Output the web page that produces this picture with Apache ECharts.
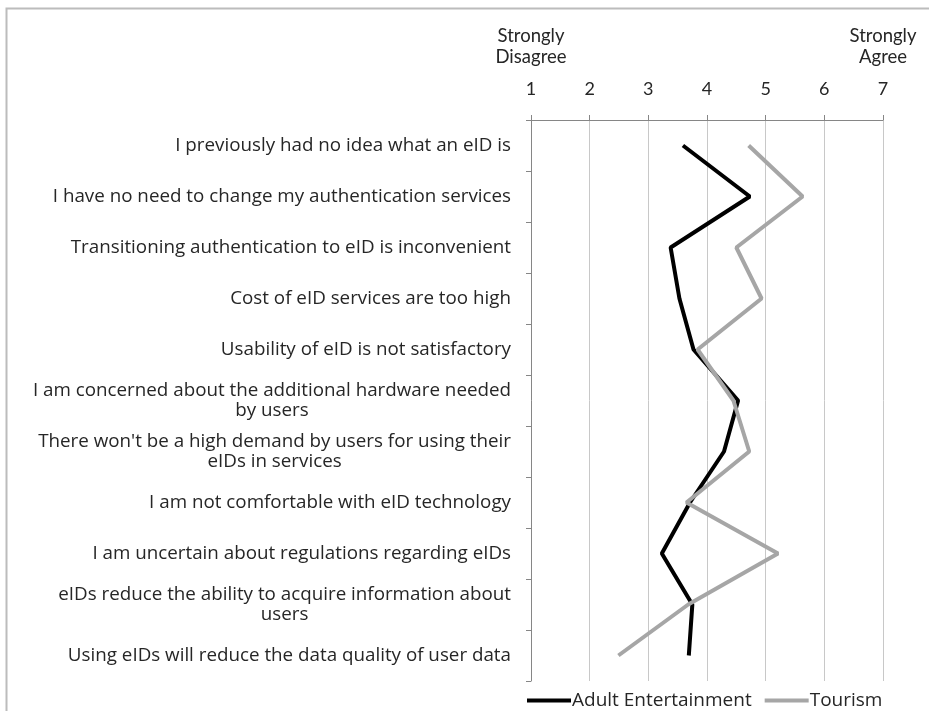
<!DOCTYPE html>
<html>
<head>
<meta charset="utf-8">
<script src="https://cdn.jsdelivr.net/npm/echarts@6/dist/echarts.min.js"></script>
<style>
  html, body { margin: 0; padding: 0; background: #fff; }
  #chart { width: 929px; height: 711px; }
</style>
</head>
<body>
<div id="chart"></div>
<script>
// Survey statements (top to bottom)
const statements = [
  "I previously had no idea what an eID is",
  "I have no need to change my authentication services",
  "Transitioning authentication to eID is inconvenient",
  "Cost of eID services are too high",
  "Usability of eID is not satisfactory",
  "I am concerned about the additional hardware needed\nby users",
  "There won't be a high demand by users for using their\neIDs in services",
  "I am not comfortable with eID technology",
  "I am uncertain about regulations regarding eIDs",
  "eIDs reduce the ability to acquire information about\nusers",
  "Using eIDs will reduce the data quality of user data"
];

// Mean agreement on a 1–7 Likert scale
const adultEntertainment = [3.59, 4.73, 3.38, 3.53, 3.77, 4.53, 4.29, 3.71, 3.23, 3.75, 3.69];
const tourism = [4.71, 5.63, 4.50, 4.93, 3.84, 4.45, 4.72, 3.65, 5.21, 3.68, 2.49];

const scaleMin = 1;
const scaleMax = 7;
const scaleLabels = ["Strongly\nDisagree", "Strongly\nAgree"];

const chart = echarts.init(document.getElementById('chart'));

// Multi-line statements: first line right-aligned, continuation lines centred under it
function statementLabel(value) {
  const lines = value.split('\n');
  if (lines.length === 1) return value;
  return lines.map((l, i) => i === 0 ? '{a|' + l + '}' : '{c|' + l + '}').join('\n');
}

const labelFont = "Open Sans";
const numFont = "Lato";
const labelSize = 18.8;
const textColor = '#262626';

chart.setOption({
  animation: false,
  backgroundColor: '#fff',
  grid: { left: 531, right: 46, top: 120, bottom: 30 },
  legend: {
    top: 691,
    left: 527,
    padding: 0,
    icon: 'rect',
    itemWidth: 44,
    itemHeight: 4,
    itemGap: 13,
    textStyle: { fontFamily: labelFont, fontSize: 19, color: textColor, padding: [0, 0, 0, -4] },
    data: ['Adult Entertainment', 'Tourism']
  },
  xAxis: {
    type: 'value',
    position: 'top',
    min: scaleMin,
    max: scaleMax,
    interval: 1,
    axisLine: { show: true, lineStyle: { color: '#868686', width: 1 } },
    axisTick: { show: true, inside: false, length: 5, lineStyle: { color: '#868686' } },
    axisLabel: { margin: 22, fontFamily: numFont, fontSize: 18, color: textColor },
    splitLine: { show: true, lineStyle: { color: '#c8c8c8', width: 1 } }
  },
  yAxis: {
    type: 'category',
    inverse: true,
    data: statements,
    boundaryGap: true,
    axisLine: { show: true, lineStyle: { color: '#868686', width: 1 } },
    axisTick: { show: true, length: 5, lineStyle: { color: '#868686' } },
    axisLabel: {
      margin: 20,
      fontFamily: labelFont,
      fontSize: labelSize,
      color: textColor,
      lineHeight: 20,
      formatter: statementLabel,
      rich: {
        a: { fontFamily: labelFont, fontSize: labelSize, color: textColor, lineHeight: 20, align: 'right' },
        c: { fontFamily: labelFont, fontSize: labelSize, color: textColor, lineHeight: 20, align: 'center' }
      }
    },
    splitLine: { show: false }
  },
  series: [
    {
      name: 'Adult Entertainment',
      type: 'line',
      data: adultEntertainment,
      symbol: 'none',
      lineStyle: { color: '#000000', width: 4 },
      itemStyle: { color: '#000000' }
    },
    {
      name: 'Tourism',
      type: 'line',
      data: tourism,
      symbol: 'none',
      lineStyle: { color: '#a6a6a6', width: 4 },
      itemStyle: { color: '#a6a6a6' }
    }
  ]
});

// Scale-end captions centred over the first and last ticks, plus the outer frame
const xLeft = chart.convertToPixel({ xAxisIndex: 0 }, scaleMin);
const xRight = chart.convertToPixel({ xAxisIndex: 0 }, scaleMax);
chart.setOption({
  graphic: [
    { type: 'rect', left: 4, top: 6, shape: { width: 940, height: 720 },
      style: { fill: 'none', stroke: '#bcbcbc', lineWidth: 2 }, silent: true },
    { type: 'text', x: xLeft, y: 26,
      style: { text: scaleLabels[0], fontFamily: numFont, fontSize: 18.5, fill: textColor, lineHeight: 21, align: 'center' } },
    { type: 'text', x: xRight, y: 26,
      style: { text: scaleLabels[1], fontFamily: numFont, fontSize: 18.5, fill: textColor, lineHeight: 21, align: 'center' } }
  ]
});
</script>
</body>
</html>
